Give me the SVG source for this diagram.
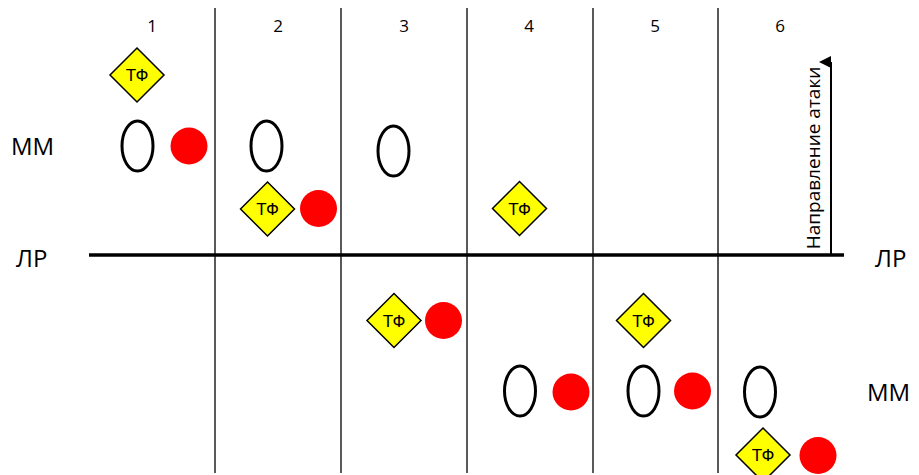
<svg xmlns="http://www.w3.org/2000/svg" width="919" height="475" viewBox="0 0 919 475">
<style>
.col{stroke:#222;stroke-width:1.5}
.lbl{font-family:"Open Sans","Liberation Sans",sans-serif;fill:#000}
.num{font-size:17px;text-anchor:middle}
.big{font-size:24px}
.dia{fill:#FFFF00;stroke:#000;stroke-width:1.5}
.tf{font-family:"Liberation Sans",Arial,sans-serif;font-size:17px;text-anchor:middle;fill:#000}
.ell{fill:#fff;stroke:#000;stroke-width:3}
.dot{fill:#FF0000}
</style>
<defs>
<marker id="ah" markerWidth="12" markerHeight="12" refX="6" refY="12" orient="auto-start-reverse" markerUnits="userSpaceOnUse" viewBox="0 0 12 12">
<path d="M0,12 L6,0 L12,12 Z" fill="#000"/>
</marker>
<g id="tfsym"><path class="dia" d="M0,-27 L27,0 L0,27 L-27,0 Z"/><text class="tf" x="0" y="6">ТФ</text></g>
</defs>
<g id="grid">
<line class="col" x1="215" y1="8" x2="215" y2="473"/>
<line class="col" x1="341" y1="8" x2="341" y2="473"/>
<line class="col" x1="467" y1="8" x2="467" y2="473"/>
<line class="col" x1="593" y1="8" x2="593" y2="473"/>
<line class="col" x1="718" y1="8" x2="718" y2="473"/>
<text class="lbl num" x="152" y="32">1</text>
<text class="lbl num" x="278" y="32">2</text>
<text class="lbl num" x="404" y="32">3</text>
<text class="lbl num" x="529" y="32">4</text>
<text class="lbl num" x="655" y="32">5</text>
<text class="lbl num" x="780" y="32">6</text>
</g>
<g id="labels">
<text class="lbl big" x="11" y="155">ММ</text>
<text class="lbl big" x="16" y="267">ЛР</text>
<text class="lbl big" x="875" y="267">ЛР</text>
<text class="lbl big" x="867" y="401">ММ</text>
</g>
<g id="connectors">
<line x1="89" y1="255" x2="844" y2="255" stroke="#000" stroke-width="3.5"/>
<line x1="831" y1="256" x2="831" y2="62" stroke="#000" stroke-width="2" marker-end="url(#ah)"/>
<text class="lbl" font-size="19" text-anchor="middle" transform="translate(820,158) rotate(-90)">Направление атаки</text>
</g>
<g id="col1">
<use href="#tfsym" x="137" y="75"/>
<ellipse class="ell" cx="137.5" cy="146" rx="15.5" ry="25"/>
<circle class="dot" cx="189" cy="146" r="18.5"/>
</g>
<g id="col2">
<ellipse class="ell" cx="266.5" cy="146" rx="15.5" ry="25"/>
<use href="#tfsym" x="267.5" y="209"/>
<circle class="dot" cx="318.5" cy="208.5" r="18.5"/>
</g>
<g id="col3">
<ellipse class="ell" cx="393.5" cy="151" rx="15.5" ry="25"/>
<use href="#tfsym" x="394" y="320.5"/>
<circle class="dot" cx="443.5" cy="320.5" r="18.5"/>
</g>
<g id="col4">
<use href="#tfsym" x="519.5" y="208.5"/>
<ellipse class="ell" cx="520" cy="391" rx="15.5" ry="25"/>
<circle class="dot" cx="571" cy="392" r="18.5"/>
</g>
<g id="col5">
<use href="#tfsym" x="643.5" y="320.5"/>
<ellipse class="ell" cx="643.5" cy="391" rx="15.5" ry="25"/>
<circle class="dot" cx="692.5" cy="391" r="18.5"/>
</g>
<g id="col6">
<ellipse class="ell" cx="760" cy="392" rx="15.5" ry="25"/>
<use href="#tfsym" x="763" y="455"/>
<circle class="dot" cx="818" cy="455.5" r="18.5"/>
</g>
</svg>
